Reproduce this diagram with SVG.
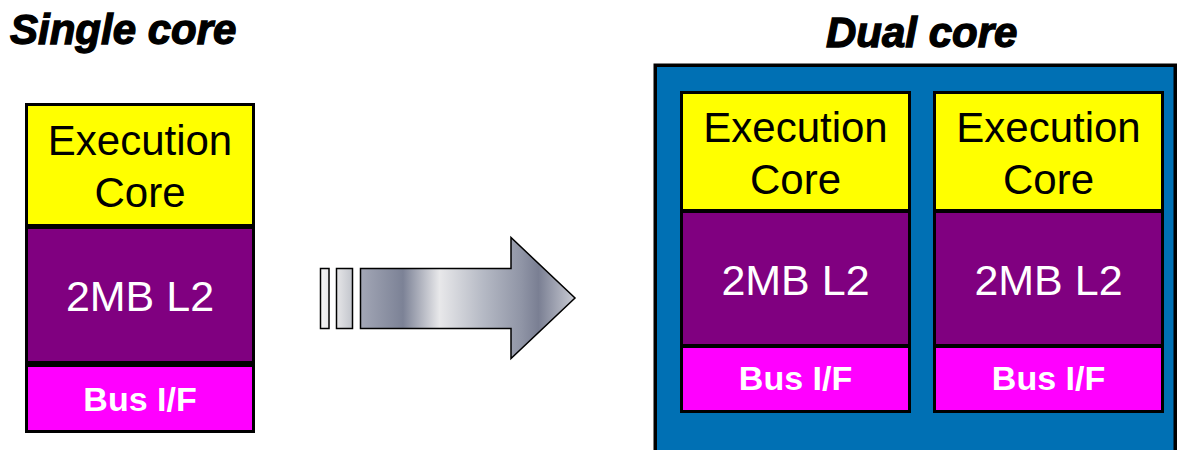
<svg xmlns="http://www.w3.org/2000/svg" width="1182" height="450" viewBox="0 0 1182 450">
  <style>
    .title { font-family: "Liberation Sans", Arial, sans-serif; font-weight: bold; font-style: italic; font-size: 42px; fill: #000; stroke: #000; stroke-width: 1.3; }
    .exec { fill: #FFFF00; stroke: #000; stroke-width: 3; }
    .l2 { fill: #800080; stroke: #000; stroke-width: 3; }
    .bus { fill: #FF00FF; stroke: #000; stroke-width: 3; }
    .t-exec { font-family: "Liberation Sans", Arial, sans-serif; font-size: 42px; fill: #000; text-anchor: middle; }
    .t-l2 { font-family: "Liberation Sans", Arial, sans-serif; font-size: 43px; fill: #fff; text-anchor: middle; }
    .t-bus { font-family: "Liberation Sans", Arial, sans-serif; font-weight: bold; font-size: 34px; fill: #fff; text-anchor: middle; }
  </style>
  <defs>
    <linearGradient id="arrowGrad" gradientUnits="userSpaceOnUse" x1="360" y1="0" x2="575" y2="0">
      <stop offset="0" stop-color="#A3A7B6"/>
      <stop offset="0.2" stop-color="#7C8296"/>
      <stop offset="0.37" stop-color="#E8E8EA"/>
      <stop offset="0.57" stop-color="#B6BAC5"/>
      <stop offset="0.75" stop-color="#9095A6"/>
      <stop offset="0.83" stop-color="#7A7F93"/>
      <stop offset="1" stop-color="#CACCD4"/>
    </linearGradient>
    <linearGradient id="barGrad1" x1="0" y1="0" x2="1" y2="0">
      <stop offset="0" stop-color="#F6F6F6"/>
      <stop offset="1" stop-color="#E8E8EA"/>
    </linearGradient>
    <linearGradient id="barGrad2" x1="0" y1="0" x2="1" y2="0">
      <stop offset="0" stop-color="#E6E6E8"/>
      <stop offset="1" stop-color="#C2C5CC"/>
    </linearGradient>
  </defs>

  <g id="title-single">
    <text class="title" x="10" y="44">Single core</text>
  </g>
  <g id="title-dual">
    <text class="title" x="826" y="47">Dual core</text>
  </g>

  <g id="single-core">
    <rect class="exec" x="26.5" y="104.5" width="227" height="121"/>
    <rect class="l2" x="26.5" y="227.5" width="227" height="135"/>
    <rect class="bus" x="26.5" y="365.5" width="227" height="66"/>
    <text class="t-exec" x="140" y="155">Execution</text>
    <text class="t-exec" x="140" y="207">Core</text>
    <text class="t-l2" x="140" y="311">2MB L2</text>
    <text class="t-bus" x="140" y="411">Bus I/F</text>
  </g>

  <g id="connectors">
    <rect x="320.5" y="268.5" width="8.5" height="60" fill="url(#barGrad1)" stroke="#000" stroke-width="1.5"/>
    <rect x="336.5" y="268.5" width="16" height="60" fill="url(#barGrad2)" stroke="#000" stroke-width="1.5"/>
    <path d="M360.5,268.5 H511 V237.5 L575,298 L511,358.5 V328.5 H360.5 Z" fill="url(#arrowGrad)" stroke="#000" stroke-width="1.5" stroke-linejoin="miter"/>
  </g>

  <g id="dual-core">
    <rect x="655.25" y="65.25" width="520" height="400" fill="#0070B4" stroke="#000" stroke-width="3.5"/>
  </g>

  <g id="core-0">
    <rect class="exec" x="681.5" y="92.5" width="228" height="118"/>
    <rect class="l2" x="681.5" y="211.5" width="228" height="134"/>
    <rect class="bus" x="681.5" y="346.5" width="228" height="65"/>
    <text class="t-exec" x="795.5" y="142">Execution</text>
    <text class="t-exec" x="795.5" y="194">Core</text>
    <text class="t-l2" x="795.5" y="295">2MB L2</text>
    <text class="t-bus" x="795.5" y="390">Bus I/F</text>
  </g>

  <g id="core-1">
    <rect class="exec" x="934.5" y="92.5" width="228" height="118"/>
    <rect class="l2" x="934.5" y="211.5" width="228" height="134"/>
    <rect class="bus" x="934.5" y="346.5" width="228" height="65"/>
    <text class="t-exec" x="1048.5" y="142">Execution</text>
    <text class="t-exec" x="1048.5" y="194">Core</text>
    <text class="t-l2" x="1048.5" y="295">2MB L2</text>
    <text class="t-bus" x="1048.5" y="390">Bus I/F</text>
  </g>
</svg>
